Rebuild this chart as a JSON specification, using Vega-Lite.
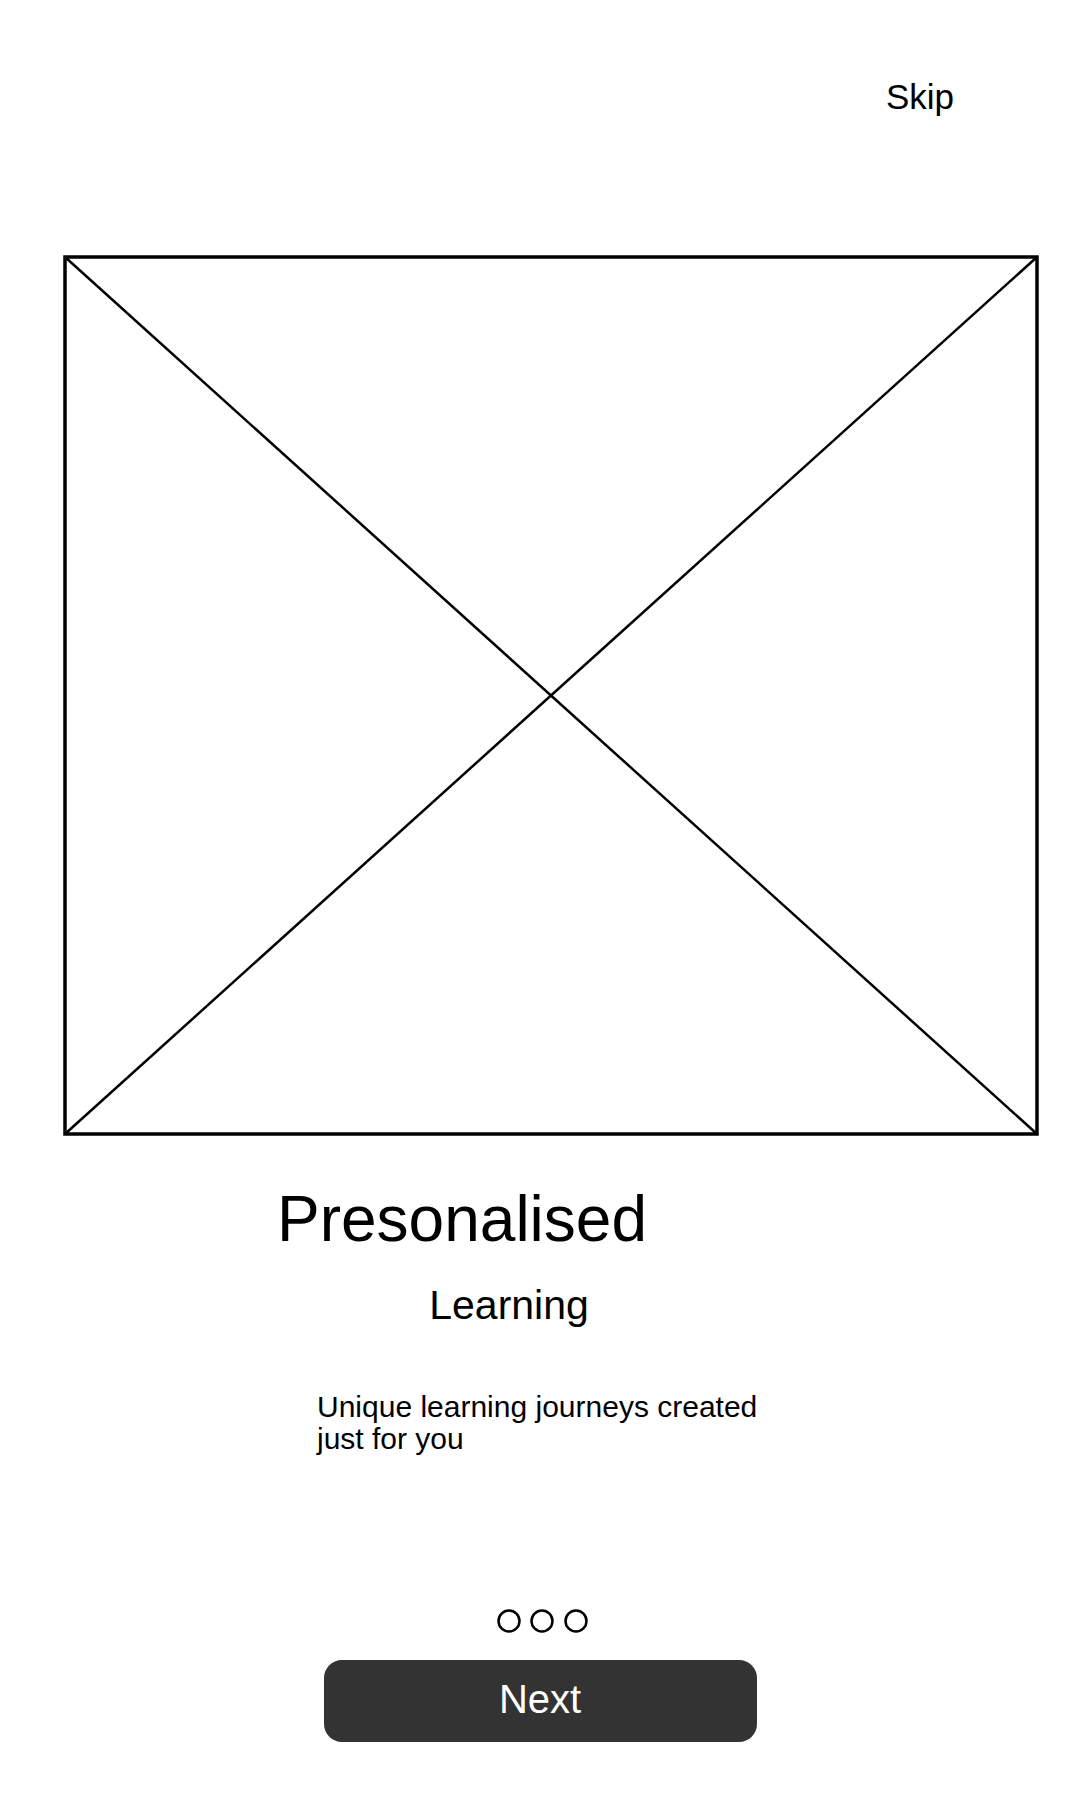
{
  "$schema": "https://vega.github.io/schema/vega-lite/v6.json",
  "width": 1080,
  "height": 1800,
  "padding": 0,
  "autosize": "none",
  "background": "white",
  "config": {"view": {"stroke": null}, "font": "Liberation Sans"},
  "datasets": {
    "frame": [{"x": 65, "x2": 1037, "y": 257, "y2": 1134}],
    "diag": [
      {"x": 65, "y": 257, "x2": 1037, "y2": 1134},
      {"x": 65, "y": 1134, "x2": 1037, "y2": 257}
    ],
    "button": [{"x": 324, "x2": 757, "y": 1660, "y2": 1742}],
    "dots": [{"x": 509, "y": 1621}, {"x": 542, "y": 1621}, {"x": 576, "y": 1621}],
    "centered": [
      {"label": "Skip", "x": 920, "y": 98, "size": 35, "color": "black"},
      {"label": "Presonalised", "x": 462, "y": 1222, "size": 64, "color": "black"},
      {"label": "Learning", "x": 509, "y": 1307, "size": 41, "color": "black"},
      {"label": "Next", "x": 540, "y": 1701, "size": 40, "color": "white"}
    ],
    "left": [
      {"label": "Unique learning journeys created", "x": 317, "y": 1408},
      {"label": "just for you", "x": 317, "y": 1440}
    ]
  },
  "encoding": {
    "x": {"field": "x", "type": "quantitative", "scale": {"domain": [0, 1080]}, "axis": null},
    "y": {"field": "y", "type": "quantitative", "scale": {"domain": [0, 1800], "reverse": true}, "axis": null}
  },
  "layer": [
    {
      "data": {"name": "frame"},
      "mark": {"type": "rect", "fill": null, "stroke": "black", "strokeWidth": 3.5},
      "encoding": {"x2": {"field": "x2"}, "y2": {"field": "y2"}}
    },
    {
      "data": {"name": "diag"},
      "mark": {"type": "rule", "stroke": "black", "strokeWidth": 2.5},
      "encoding": {"x2": {"field": "x2"}, "y2": {"field": "y2"}}
    },
    {
      "data": {"name": "button"},
      "mark": {"type": "rect", "fill": "#333333", "cornerRadius": 18},
      "encoding": {"x2": {"field": "x2"}, "y2": {"field": "y2"}}
    },
    {
      "data": {"name": "dots"},
      "mark": {"type": "point", "shape": "circle", "size": 440, "filled": false, "stroke": "black", "strokeWidth": 2.5, "opacity": 1}
    },
    {
      "data": {"name": "centered"},
      "mark": {"type": "text", "baseline": "middle", "align": "center"},
      "encoding": {
        "text": {"field": "label"},
        "size": {"field": "size", "type": "quantitative", "scale": null},
        "color": {"field": "color", "type": "nominal", "scale": null}
      }
    },
    {
      "data": {"name": "left"},
      "mark": {"type": "text", "baseline": "middle", "align": "left", "fontSize": 30, "color": "black"},
      "encoding": {"text": {"field": "label"}}
    }
  ]
}
